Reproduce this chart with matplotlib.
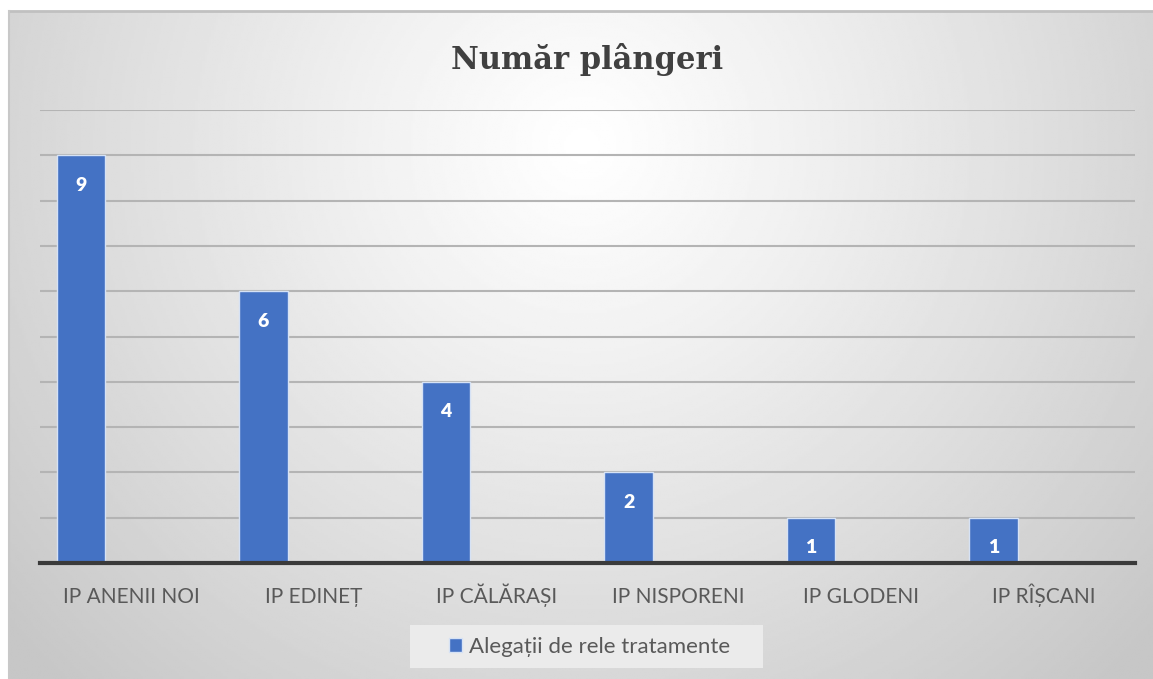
import matplotlib.pyplot as plt
from matplotlib.patches import Rectangle
import numpy as np

categories = ["IP ANENII NOI", "IP EDINEȚ", "IP CĂLĂRAȘI", "IP NISPORENI", "IP GLODENI", "IP RÎȘCANI"]
values = [9, 6, 4, 2, 1, 1]
series_name = "Alegații de rele tratamente"
title = "Număr plângeri"

W, H = 1153, 679
fig = plt.figure(figsize=(W / 100, H / 100), dpi=100)
fig.patch.set_facecolor("white")

# radial gradient background of the chart area
bg = fig.add_axes([9 / W, 0, 1 - 9 / W, 1 - 11 / H])
yy, xx = np.mgrid[0:300, 0:500]
cx, cy = 250, 60
r = np.sqrt(((xx - cx) / 330) ** 2 + ((yy - cy) / 330) ** 2)
r = np.clip(r, 0, 1)
shade = 1.0 - 0.22 * r ** 1.1
bg.imshow(shade, cmap="gray", vmin=0, vmax=1, aspect="auto", extent=[0, 1, 0, 1])
bg.set_xticks([])
bg.set_yticks([])
for s in bg.spines.values():
    s.set_visible(False)
bg.plot([0, 1], [1, 1], color="#c0c0c0", lw=2, transform=bg.transAxes, clip_on=False)
bg.plot([0, 0], [0, 1], color="#c8c8c8", lw=1.5, transform=bg.transAxes, clip_on=False)

ax = fig.add_axes([40 / W, 1 - 563 / H, (1135 - 40) / W, (563 - 110) / H])
ax.set_facecolor("none")
x = np.arange(len(categories))
ax.set_xlim(-0.5, len(categories) - 0.5)
ax.set_ylim(0, 10)
for yv in range(1, 11):
    ax.axhline(yv, color="#b4b4b4", lw=1.5, zorder=1)

offset = -0.275
bars = ax.bar(x + offset, values, width=0.265, color="#4472C4",
              edgecolor="#d6e2f5", linewidth=1.0, zorder=3)
for xi, v in zip(x, values):
    ax.text(xi + offset, v - 0.66, str(v), ha="center", va="center",
            color="white", fontsize=14, fontweight="heavy", family="Lato", zorder=4)

ax.set_xticks(x)
ax.set_xticklabels(categories, family="Lato", fontsize=15, color="#595959")
for lab in ax.get_xticklabels():
    lab.set_verticalalignment("baseline")
ax.tick_params(axis="x", length=0, pad=29)
ax.set_yticks([])
for s in ["top", "right", "left"]:
    ax.spines[s].set_visible(False)
ax.spines["bottom"].set_color("#3a3a3a")
ax.spines["bottom"].set_linewidth(3)
ax.spines["bottom"].set_zorder(5)

fig.text(587 / W, 1 - 60 / H, title, ha="center", va="center",
         fontsize=22, fontweight="bold", family="DejaVu Serif", color="#404040")

# legend background box
fig.patches.append(Rectangle((410 / W, 1 - 668 / H), (763 - 410) / W, 43 / H,
                             transform=fig.transFigure, facecolor="#ebebeb",
                             edgecolor="none", zorder=2))
leg = fig.legend([bars], [series_name], loc="center", bbox_to_anchor=(590 / W, 1 - 647 / H),
                 frameon=False, handlelength=0.55, handleheight=0.55,
                 handletextpad=0.35, borderpad=0.3,
                 prop={"family": "Lato", "size": 16})
leg.set_zorder(3)
for t in leg.get_texts():
    t.set_color("#595959")

fig.savefig("out.png", dpi=100)
